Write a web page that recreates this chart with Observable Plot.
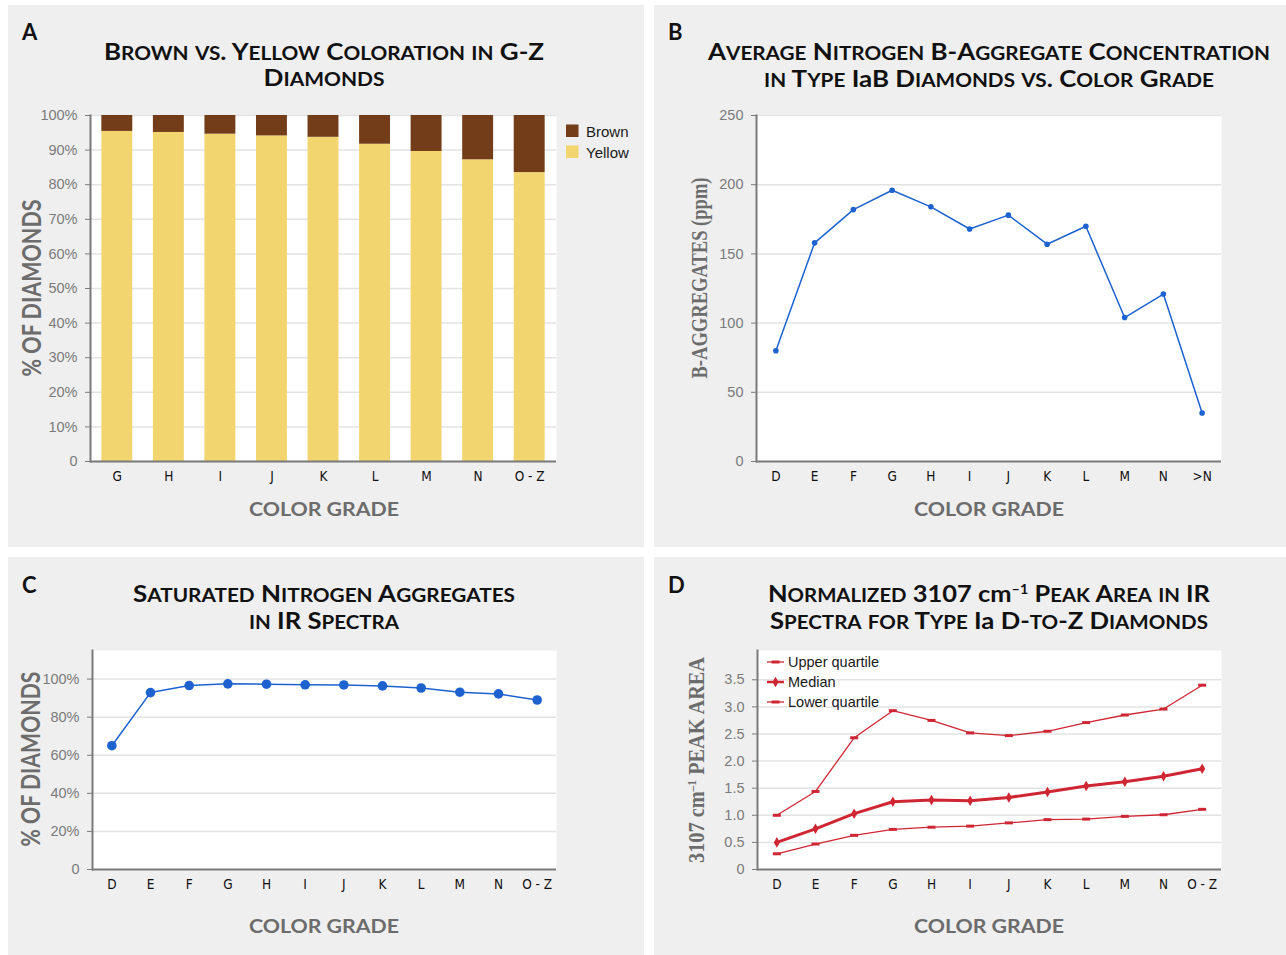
<!DOCTYPE html>
<html>
<head>
<meta charset="utf-8">
<script src="https://cdn.jsdelivr.net/npm/d3@7"></script>
<script src="https://cdn.jsdelivr.net/npm/@observablehq/plot@0.6"></script>
<style>
  html, body { margin: 0; padding: 0; background: #ffffff; }
  body { position: relative; width: 1286px; height: 955px; overflow: hidden; }
  .panel { position: absolute; background: #efefef; }
  .panel svg { position: absolute; left: 0; top: 0; }
  #overlay { position: absolute; left: 0; top: 0; pointer-events: none; }
</style>
</head>
<body>
<div class="panel" id="pA" style="left:8px;top:5px;width:636px;height:542px"></div>
<div class="panel" id="pB" style="left:654px;top:5px;width:632px;height:542px"></div>
<div class="panel" id="pC" style="left:8px;top:557px;width:636px;height:398px"></div>
<div class="panel" id="pD" style="left:654px;top:557px;width:632px;height:398px"></div>
<script>
// ---------- data ----------
const gradesA = ["G", "H", "I", "J", "K", "L", "M", "N", "O - Z"];
const yellowA = [95.4, 95.1, 94.6, 94.1, 93.7, 91.7, 89.6, 87.2, 83.5];
const brownA  = [4.6, 4.9, 5.4, 5.9, 6.3, 8.3, 10.4, 12.8, 16.5];
const ticksA  = [0, 10, 20, 30, 40, 50, 60, 70, 80, 90, 100];

const gradesB = ["D", "E", "F", "G", "H", "I", "J", "K", "L", "M", "N", ">N"];
const bAggregates = [80, 158, 182, 196, 184, 168, 178, 157, 170, 104, 121, 35];
const ticksB  = [0, 50, 100, 150, 200, 250];

const gradesC = ["D", "E", "F", "G", "H", "I", "J", "K", "L", "M", "N", "O - Z"];
const saturated = [65, 92.9, 96.6, 97.5, 97.3, 97.0, 96.9, 96.4, 95.3, 93.1, 92.2, 89.0];
const ticksC  = [0, 20, 40, 60, 80, 100];

const gradesD = ["D", "E", "F", "G", "H", "I", "J", "K", "L", "M", "N", "O - Z"];
const upperQuartile = [1.00, 1.44, 2.43, 2.93, 2.75, 2.52, 2.47, 2.55, 2.71, 2.85, 2.96, 3.40];
const medianArea    = [0.50, 0.75, 1.03, 1.25, 1.28, 1.27, 1.33, 1.43, 1.54, 1.62, 1.72, 1.86];
const lowerQuartile = [0.29, 0.47, 0.63, 0.74, 0.78, 0.80, 0.86, 0.92, 0.93, 0.98, 1.01, 1.11];
const ticksD  = [0, 0.5, 1.0, 1.5, 2.0, 2.5, 3.0, 3.5];

// ---------- styles ----------
const BLUE = "#1d62cf", RED = "#cf2634", BROWN = "#733d1a", YELLOW = "#f2d56e";
const GRID = "#e3e3e3", AXIS = "#7a7a7a", TICKTEXT = "#7b7b7b";
const SANS = "'Liberation Sans', Arial, Helvetica, sans-serif";
const NARROW = "'DejaVu Sans Condensed', 'Liberation Sans Narrow', 'Liberation Sans', sans-serif";
const pctFmt = d => d === 0 ? "0" : d + "%";
const numFmt = d => d === 0 ? "0" : d3.format(".1f")(d);
const dash = { draw(ctx) { ctx.rect(-4, -1.5, 8, 3); } };
const fillA = { Yellow: YELLOW, Brown: BROWN };

function commonAxes(yticks, yfmt) {
  return [
    Plot.axisY(yticks, { tickSize: 5, tickPadding: 8, tickFormat: yfmt, fontSize: 14.5, color: TICKTEXT, label: null }),
    Plot.axisX({ tickSize: 0, tickPadding: 10, fontSize: 13.5, color: "#111", fontFamily: NARROW, label: null }),
    Plot.ruleY([0], { stroke: AXIS, strokeWidth: 2 }),
    Plot.frame({ anchor: "left", stroke: AXIS, strokeWidth: 2 })
  ];
}
const svgStyle = { background: "transparent", fontFamily: SANS, overflow: "visible" };

// ---------- A ----------
const rowsA = [
  ...gradesA.map((g, i) => ({ grade: g, type: "Yellow", value: yellowA[i] })),
  ...gradesA.map((g, i) => ({ grade: g, type: "Brown", value: brownA[i] }))
];
const chartA = Plot.plot({
  width: 636, height: 542, marginLeft: 82, marginRight: 88, marginTop: 110, marginBottom: 86,
  style: svgStyle,
  x: { domain: gradesA, paddingInner: 0.4, paddingOuter: 0.22, round: false, label: null },
  y: { domain: [0, 100], label: null },
  marks: [
    Plot.frame({ fill: "white", stroke: null }),
    Plot.gridY(ticksA, { stroke: GRID, strokeOpacity: 1, strokeWidth: 1.5 }),
    Plot.barY(rowsA, { x: "grade", y: "value", fill: d => fillA[d.type] }),
    ...commonAxes(ticksA, pctFmt)
  ]
});
document.getElementById("pA").appendChild(chartA);

// ---------- B ----------
const rowsB = gradesB.map((g, i) => ({ grade: g, value: bAggregates[i] }));
const chartB = Plot.plot({
  width: 632, height: 542, marginLeft: 102, marginRight: 65, marginTop: 110, marginBottom: 86,
  style: svgStyle,
  x: { type: "point", domain: gradesB, padding: 0.5, round: false, label: null },
  y: { domain: [0, 250], label: null },
  marks: [
    Plot.frame({ fill: "white", stroke: null }),
    Plot.gridY(ticksB.filter(d => d > 0), { stroke: GRID, strokeOpacity: 1, strokeWidth: 1.5 }),
    Plot.line(rowsB, { x: "grade", y: "value", stroke: BLUE, strokeWidth: 1.5 }),
    Plot.dot(rowsB, { x: "grade", y: "value", fill: BLUE, r: 2.8 }),
    ...commonAxes(ticksB, d => String(d))
  ]
});
document.getElementById("pB").appendChild(chartB);

// ---------- C ----------
const rowsC = gradesC.map((g, i) => ({ grade: g, value: saturated[i] }));
const chartC = Plot.plot({
  width: 636, height: 398, marginLeft: 84, marginRight: 88, marginTop: 93, marginBottom: 86,
  style: svgStyle,
  x: { type: "point", domain: gradesC, padding: 0.5, round: false, label: null },
  y: { domain: [0, 115], label: null },
  marks: [
    Plot.frame({ fill: "white", stroke: null }),
    Plot.gridY(ticksC.filter(d => d > 0), { stroke: GRID, strokeOpacity: 1, strokeWidth: 1.5 }),
    Plot.line(rowsC, { x: "grade", y: "value", stroke: BLUE, strokeWidth: 1.5 }),
    Plot.dot(rowsC, { x: "grade", y: "value", fill: BLUE, r: 4.8 }),
    ...commonAxes(ticksC, pctFmt)
  ]
});
document.getElementById("pC").appendChild(chartC);

// ---------- D ----------
const rowsD = [
  ...gradesD.map((g, i) => ({ grade: g, series: "Upper quartile", value: upperQuartile[i] })),
  ...gradesD.map((g, i) => ({ grade: g, series: "Lower quartile", value: lowerQuartile[i] }))
];
const rowsMedian = gradesD.map((g, i) => ({ grade: g, value: medianArea[i] }));
const chartD = Plot.plot({
  width: 632, height: 398, marginLeft: 103, marginRight: 65, marginTop: 93, marginBottom: 86,
  style: svgStyle,
  x: { type: "point", domain: gradesD, padding: 0.5, round: false, label: null },
  y: { domain: [0, 4.04], label: null },
  marks: [
    Plot.frame({ fill: "white", stroke: null }),
    Plot.gridY(ticksD.filter(d => d > 0), { stroke: GRID, strokeOpacity: 1, strokeWidth: 1.5 }),
    Plot.line(rowsD, { x: "grade", y: "value", z: "series", stroke: RED, strokeWidth: 1.3 }),
    Plot.dot(rowsD, { x: "grade", y: "value", symbol: dash, fill: RED, stroke: null, r: 3 }),
    Plot.line(rowsMedian, { x: "grade", y: "value", stroke: RED, strokeWidth: 3 }),
    Plot.dot(rowsMedian, { x: "grade", y: "value", symbol: "diamond", fill: RED, stroke: null, r: 3.2 }),
    ...commonAxes(ticksD, numFmt)
  ]
});
document.getElementById("pD").appendChild(chartD);

// ---------- text overlay (titles, axis titles, legends) ----------
const TITLE = "Lato, 'Open Sans', sans-serif";
const SERIF = "'Liberation Serif', 'DejaVu Serif', serif";
const ov = d3.select("body").append("svg").attr("id", "overlay").attr("width", 1286).attr("height", 955);

// manual small caps: lowercase runs become capitals at 80% size
function addRuns(t, str, size, caps, dy) {
  const runs = [];
  if (!caps) runs.push([str, false]);
  else {
    const re = /([a-z]+)|([^a-z]+)/g;
    let m;
    while ((m = re.exec(str))) runs.push([m[0].toUpperCase(), !!m[1]]);
  }
  runs.forEach(([s, small], i) => {
    const sp = t.append("tspan").text(s);
    if (small) sp.style("font-size", (size * 0.8) + "px");
    if (i === 0 && dy) sp.attr("dy", dy);
  });
}
function txt(x, y, parts, o = {}) {
  const size = o.size || 23;
  const t = ov.append("text").attr("x", x).attr("y", y)
    .attr("text-anchor", o.anchor || "start")
    .style("font-family", o.family || TITLE)
    .style("font-weight", o.weight || 700)
    .style("font-size", size + "px")
    .attr("fill", o.fill || "#111");
  if (o.rotate) t.attr("transform", `rotate(-90 ${x} ${y})`);
  if (o.length) t.attr("textLength", o.length).attr("lengthAdjust", "spacingAndGlyphs");
  for (const p of [].concat(parts)) {
    if (typeof p === "string") { addRuns(t, p, size, o.caps, 0); continue; }
    if (p.down) { addRuns(t, p.t, size, o.caps, 8); continue; }
    const s = t.append("tspan").text(p.t);
    if (p.sup) s.attr("dy", -8).style("font-size", "13px");
  }
  return t;
}

// panel letters
txt(22, 40, "A", { size: 22 });
txt(668, 40, "B", { size: 22 });
txt(22, 593, "C", { size: 22 });
txt(668, 593, "D", { size: 22 });

// titles
txt(324, 60, "Brown vs. Yellow Coloration in G-Z", { anchor: "middle", caps: true, length: 440 });
txt(324, 86, "Diamonds", { anchor: "middle", caps: true, length: 121 });
txt(989, 60, "Average Nitrogen B-Aggregate Concentration", { anchor: "middle", caps: true, length: 562 });
txt(989, 87, ["in Type I", { t: "a" }, "B Diamonds vs. Color Grade"], { anchor: "middle", caps: true, length: 450 });
txt(324, 602, "Saturated Nitrogen Aggregates", { anchor: "middle", caps: true, length: 382 });
txt(324, 629, "in IR Spectra", { anchor: "middle", caps: true, length: 150 });
txt(989, 602, ["Normalized 3107 ", { t: "cm" }, { t: "\u20131", sup: true }, { t: " Peak Area in IR", down: true }], { anchor: "middle", caps: true, length: 442 });
txt(989, 629, ["Spectra for Type I", { t: "a" }, " D-to-Z Diamonds"], { anchor: "middle", caps: true, length: 438 });

// x-axis titles
const GREYT = "#6c6c6c";
for (const [x, y] of [[324, 516], [989, 516], [324, 933], [989, 933]])
  txt(x, y, "COLOR GRADE", { anchor: "middle", size: 19.5, fill: GREYT, length: 150 });

// y-axis titles
txt(41, 288, "% OF DIAMONDS", { anchor: "middle", size: 26, fill: GREYT, rotate: true, length: 177 });
txt(707, 278, "B-AGGREGATES (ppm)", { anchor: "middle", size: 23, fill: GREYT, rotate: true, family: SERIF, length: 201 });
txt(40, 759, "% OF DIAMONDS", { anchor: "middle", size: 26, fill: GREYT, rotate: true, length: 175 });
txt(704, 760, ["3107 ", { t: "cm" }, { t: "\u20131", sup: true }, { t: " PEAK AREA", down: true }], { anchor: "middle", size: 23, fill: GREYT, rotate: true, family: SERIF, length: 206 });

// legend A
const legA = [["Brown", BROWN, 137], ["Yellow", YELLOW, 158]];
for (const [name, col, base] of legA) {
  ov.append("rect").attr("x", 566).attr("y", base - 12.5).attr("width", 12.5).attr("height", 12.5).attr("fill", col);
  txt(586, base, name, { family: SANS, weight: 400, size: 15, fill: "#1a1a1a" });
}

// legend D
const legD = [["Upper quartile", "dash", 662], ["Median", "diamond", 682], ["Lower quartile", "dash", 702]];
for (const [name, kind, cy] of legD) {
  ov.append("line").attr("x1", 767).attr("x2", 784).attr("y1", cy).attr("y2", cy)
    .attr("stroke", RED).attr("stroke-width", kind === "diamond" ? 2.5 : 1.3);
  if (kind === "dash") ov.append("rect").attr("x", 771.5).attr("y", cy - 1.5).attr("width", 8).attr("height", 3).attr("fill", RED);
  else ov.append("path").attr("d", d3.symbol(d3.symbolDiamond, 32)()).attr("transform", `translate(775.5,${cy})`).attr("fill", RED);
  txt(788, cy + 5, name, { family: SANS, weight: 400, size: 14.5, fill: "#1a1a1a" });
}
</script>
</body>
</html>
